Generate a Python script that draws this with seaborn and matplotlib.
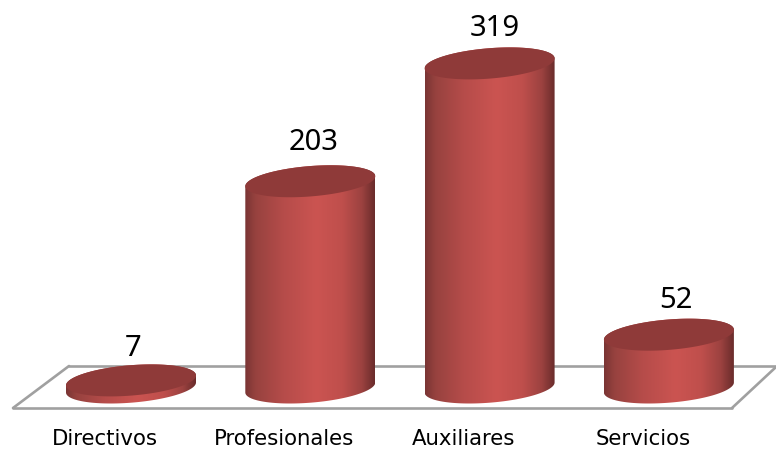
import numpy as np
import pandas as pd
import matplotlib
matplotlib.use('Agg')
import matplotlib.pyplot as plt
from matplotlib.colors import LinearSegmentedColormap
from matplotlib.lines import Line2D
from matplotlib.patches import Polygon
import seaborn as sns

categories = ['Directivos', 'Profesionales', 'Auxiliares', 'Servicios']
values = [7, 203, 319, 52]

W, H = 776, 449
sns.set_theme(style='white')
plt.rcParams['font.family'] = ['Noto Sans', 'DejaVu Sans']

df = pd.DataFrame({'categoria': categories, 'valor': values})

fig = plt.figure(figsize=(W / 100, H / 100), dpi=100)
ax = fig.add_axes([0, 0, 1, 1])
sns.barplot(data=df, x='categoria', y='valor', width=0.725, color='#c0504d', ax=ax)

# 1 category = 179.3 px, 1 unit = 1.016 px, baseline at pixel row 387.5
px_x = 179.3
px_y = 1.016
ax.set_xlim(-131 / px_x, (W - 131) / px_x)
ax.set_ylim(-(H - 387.5) / px_y, 387.5 / px_y)
ax.axis('off')

# floor of the chart, behind the cylinders
floor = [([69, 776], [366, 366]), ([13, 732], [408, 408]),
         ([13, 69], [408, 366]), ([732, 776], [408, 367])]
for xs, ys in floor:
    fig.add_artist(Line2D(np.array(xs) / W, 1 - np.array(ys) / H, color='#a0a0a0', lw=1.9, zorder=-1))

shade = LinearSegmentedColormap.from_list('shade', [
    (0.0, '#7a3534'), (0.08, '#97423f'), (0.3, '#b64c4a'),
    (0.55, '#cb5451'), (0.75, '#bf4f4c'), (0.9, '#9c4240'), (1.0, '#6a2c2b')])
gradient = np.linspace(0, 1, 256).reshape(1, -1)

b = 15.2 / px_y
k = 5.0 / px_y
t_low = np.linspace(np.pi, 2 * np.pi, 80)
t_up = np.linspace(0, np.pi, 80)

label_dx = [2, 3, 5, 7]
label_dy = [32, 39, 35, 34]

for i, bar in enumerate(list(ax.patches)):
    bar.set_visible(False)
    x0 = bar.get_x()
    w = bar.get_width()
    top = bar.get_height()
    xc = x0 + w / 2
    a = w / 2

    lower_x = xc + a * np.cos(t_low)
    lower_y = k * np.cos(t_low) + b * np.sin(t_low)
    upper_x = xc + a * np.cos(t_up)
    upper_y = top + k * np.cos(t_up) + b * np.sin(t_up)

    body = Polygon(np.r_[np.c_[lower_x, lower_y], np.c_[upper_x, upper_y]], closed=True,
                   transform=ax.transData, fc='none', ec='none')
    ax.add_patch(body)
    im = ax.imshow(gradient, cmap=shade, aspect='auto', zorder=3,
                   extent=[x0, x0 + w, -30, top + 30], interpolation='bilinear')
    im.set_clip_path(body)

    t = np.linspace(0, 2 * np.pi, 160)
    ax.add_patch(Polygon(np.c_[xc + a * np.cos(t), top + k * np.cos(t) + b * np.sin(t)],
                         closed=True, fc='#8f3a39', ec='none', zorder=4))

    ax.annotate(str(values[i]), xy=(xc, top), xytext=(label_dx[i] * 0.72, label_dy[i] * 0.72),
                textcoords='offset points', ha='center', va='center', fontsize=21,
                family='Noto Sans', color='black', zorder=5)
    ax.text(xc - 26 / px_x, (387.5 - 439) / px_y, categories[i], ha='center', va='center',
            fontsize=15.3, family='DejaVu Sans', color='black', zorder=5)

ax.set_xlim(-131 / px_x, (W - 131) / px_x)
ax.set_ylim(-(H - 387.5) / px_y, 387.5 / px_y)

fig.savefig('out.png', dpi=100)
